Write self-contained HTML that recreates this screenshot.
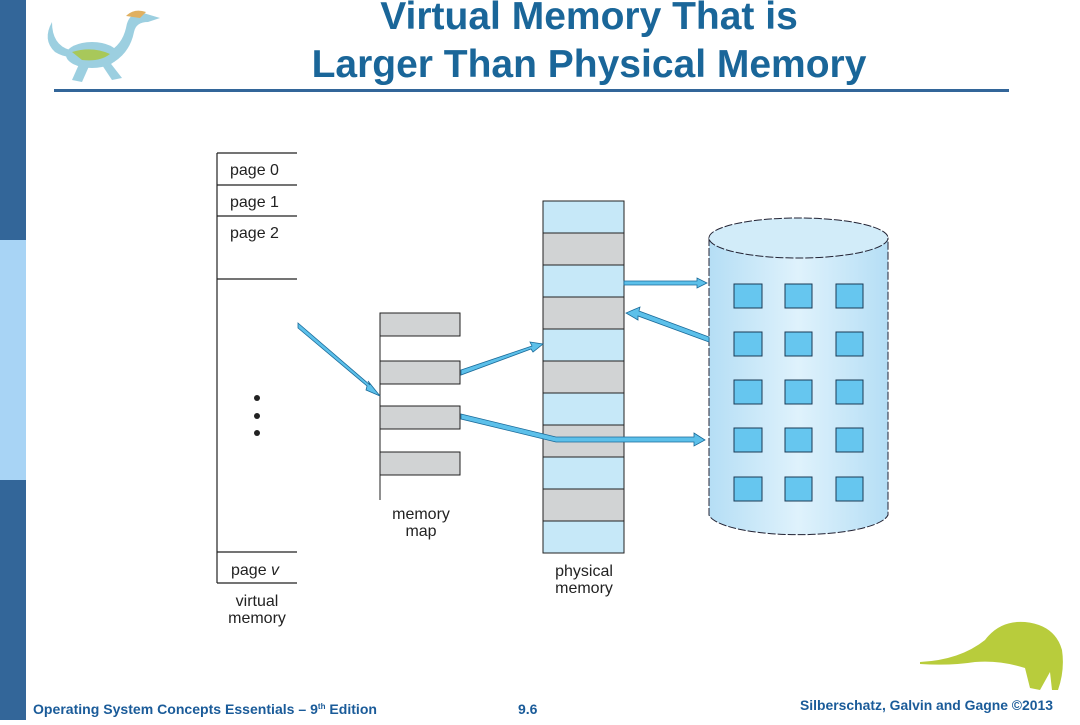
<!DOCTYPE html>
<html><head><style>
body{margin:0;width:1080px;height:720px;overflow:hidden;background:#fff;font-family:"Liberation Sans",sans-serif}
</style></head><body>
<svg width="1080" height="720" xmlns="http://www.w3.org/2000/svg" font-family="Liberation Sans, sans-serif">
<defs>
<linearGradient id="cyl" x1="0" x2="1"><stop offset="0" stop-color="#b5def5"/><stop offset="0.5" stop-color="#dff2fc"/><stop offset="1" stop-color="#b5def5"/></linearGradient>
</defs>
<rect x="0" y="0" width="26" height="720" fill="#336699"/>
<rect x="0" y="240" width="26" height="240" fill="#a8d4f5"/>
<text x="589" y="29" font-size="39" font-weight="bold" fill="#1a6699" text-anchor="middle">Virtual Memory That is</text>
<text x="589" y="77" font-size="39" font-weight="bold" fill="#1a6699" text-anchor="middle">Larger Than Physical Memory</text>
<rect x="54" y="89" width="955" height="3" fill="#336699"/>
<!-- dino top-left -->
<g fill="#9ccfe0">
<path d="M52 22 Q42 40 55 52 Q68 60 80 55 L70 50 Q52 45 52 22 Z"/>
<ellipse cx="92" cy="55" rx="26" ry="13"/>
<path d="M108 52 Q122 45 126 28 Q128 14 140 12 L160 18 L148 22 Q136 22 134 32 Q130 52 114 62 Z"/>
<path d="M80 62 L72 80 L82 82 L90 64 Z"/>
<path d="M100 62 L112 80 L122 78 L108 60 Z"/>
</g>
<path d="M72 52 Q92 46 110 54 Q100 62 82 60 Z" fill="#a8c85a"/>
<path d="M126 16 Q134 8 146 12 L140 18 Z" fill="#e0b060"/>
<!-- virtual memory -->
<g stroke="#222" stroke-width="1.2" fill="none">
<line x1="217" y1="153" x2="217" y2="583"/>
<line x1="217" y1="153" x2="297" y2="153"/>
<line x1="217" y1="185" x2="297" y2="185"/>
<line x1="217" y1="216" x2="297" y2="216"/>
<line x1="217" y1="279" x2="297" y2="279"/>
<line x1="217" y1="552" x2="297" y2="552"/>
<line x1="217" y1="583" x2="297" y2="583"/>
</g>
<g font-size="16" fill="#222">
<text x="230" y="175">page 0</text>
<text x="230" y="207">page 1</text>
<text x="230" y="238">page 2</text>
<text x="231" y="575">page <tspan font-style="italic">v</tspan></text>
<text x="257" y="606" text-anchor="middle">virtual</text>
<text x="257" y="623" text-anchor="middle">memory</text>
<text x="421" y="519" text-anchor="middle">memory</text>
<text x="421" y="536" text-anchor="middle">map</text>
<text x="584" y="576" text-anchor="middle">physical</text>
<text x="584" y="593" text-anchor="middle">memory</text>
</g>
<circle cx="257" cy="398" r="3" fill="#222"/><circle cx="257" cy="416" r="3" fill="#222"/><circle cx="257" cy="433" r="3" fill="#222"/>
<!-- memory map -->
<g fill="#d1d3d4" stroke="#222" stroke-width="1">
<rect x="380" y="313" width="80" height="23"/>
<rect x="380" y="361" width="80" height="23"/>
<rect x="380" y="406" width="80" height="23"/>
<rect x="380" y="452" width="80" height="23"/>
</g>
<line x1="380" y1="313" x2="380" y2="500" stroke="#222"/>
<!-- physical memory -->
<g stroke="#222" stroke-width="1">
<rect x="543" y="201" width="81" height="32" fill="#c6e8f8"/>
<rect x="543" y="233" width="81" height="32" fill="#d1d3d4"/>
<rect x="543" y="265" width="81" height="32" fill="#c6e8f8"/>
<rect x="543" y="297" width="81" height="32" fill="#d1d3d4"/>
<rect x="543" y="329" width="81" height="32" fill="#c6e8f8"/>
<rect x="543" y="361" width="81" height="32" fill="#d1d3d4"/>
<rect x="543" y="393" width="81" height="32" fill="#c6e8f8"/>
<rect x="543" y="425" width="81" height="32" fill="#d1d3d4"/>
<rect x="543" y="457" width="81" height="32" fill="#c6e8f8"/>
<rect x="543" y="489" width="81" height="32" fill="#d1d3d4"/>
<rect x="543" y="521" width="81" height="32" fill="#c6e8f8"/>
</g>
<!-- disk -->
<path d="M709 238 L709 515 A90 22 0 0 0 888 515 L888 238 Z" fill="url(#cyl)" stroke="#223" stroke-dasharray="8 2"/>
<ellipse cx="798.5" cy="238" rx="89.5" ry="20" fill="#d2ecf9" stroke="#223" stroke-dasharray="8 2"/>
<g fill="#66c6ef" stroke="#1a3a55">
<rect x="734" y="284" width="28" height="24"/><rect x="785" y="284" width="27" height="24"/><rect x="836" y="284" width="27" height="24"/>
<rect x="734" y="332" width="28" height="24"/><rect x="785" y="332" width="27" height="24"/><rect x="836" y="332" width="27" height="24"/>
<rect x="734" y="380" width="28" height="24"/><rect x="785" y="380" width="27" height="24"/><rect x="836" y="380" width="27" height="24"/>
<rect x="734" y="428" width="28" height="24"/><rect x="785" y="428" width="27" height="24"/><rect x="836" y="428" width="27" height="24"/>
<rect x="734" y="477" width="28" height="24"/><rect x="785" y="477" width="27" height="24"/><rect x="836" y="477" width="27" height="24"/>
</g>
<!-- arrows -->
<g stroke="#1a6a99" stroke-width="0.8" fill="#5cc0ea">
<polygon points="298,323 370,385 368,381 380,396 366,390 367,386 298,328"/>
<polygon points="461,370 532,346 530,342 543,344 533,352 531,349 461,375"/>
<polygon points="624,281 697,281 697,278 707,283 697,288 697,285 624,285"/>
<polygon points="709,342 638,316 638,320 626,313 640,307 639,311 709,337"/>
<polygon points="461,414 556,437 694,437 694,433 705,440 694,446 694,442 556,442 461,419"/>
</g>
<!-- dino bottom right -->
<path d="M920 662 Q960 660 985 640 Q1000 620 1025 622 Q1055 625 1062 650 Q1065 670 1058 690 L1052 690 L1050 672 L1040 690 L1030 688 L1025 668 Q1000 660 975 662 Q950 666 920 664 Z" fill="#b8cc3c"/>
<g font-size="14" font-weight="bold" fill="#1a5b99">
<text x="33" y="714" textLength="344" lengthAdjust="spacingAndGlyphs">Operating System Concepts Essentials – 9<tspan font-size="8" dy="-5">th</tspan><tspan dy="5"> Edition</tspan></text>
<text x="518" y="714">9.6</text>
<text x="800" y="710" textLength="253" lengthAdjust="spacingAndGlyphs">Silberschatz, Galvin and Gagne ©2013</text>
</g>
</svg>
</body></html>
